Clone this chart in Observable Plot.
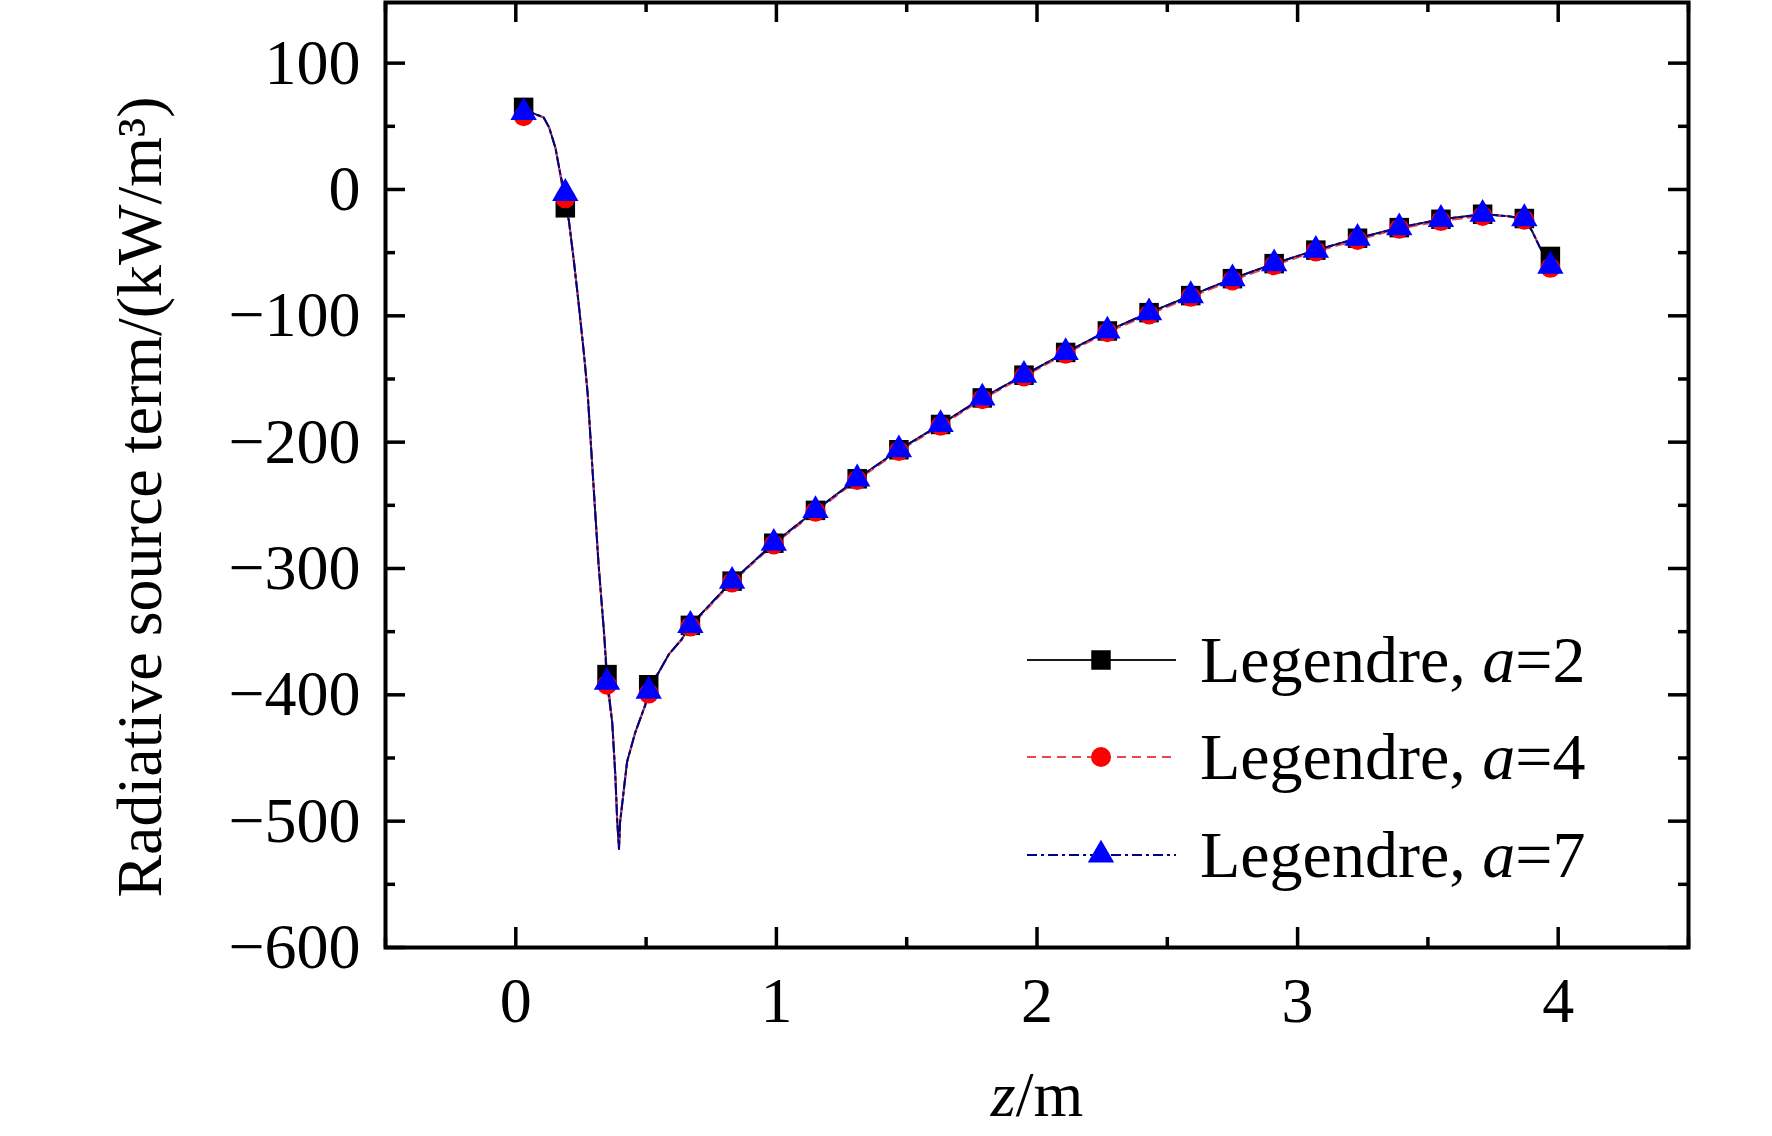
<!DOCTYPE html>
<html><head><meta charset="utf-8">
<script src="https://cdn.jsdelivr.net/npm/d3@7"></script>
<script src="https://cdn.jsdelivr.net/npm/@observablehq/plot@0.6"></script>
<style>
html,body{margin:0;padding:0;background:#fff;}
#wrap{position:relative;width:1772px;height:1136px;overflow:hidden;}
</style></head><body><div id="wrap"></div>
<script>
// ---- data ----
const zMarkers = [0.03,0.19,0.35,0.51,0.67,0.83,0.99,1.15,1.31,1.47,1.63,1.79,1.95,2.11,2.27,2.43,2.59,2.75,2.91,3.07,3.23,3.39,3.55,3.71,3.87,3.97];
const a2Values = [65,-14.5,-384,-392,-345,-310,-280,-254,-229,-206,-186,-165,-147,-129,-112,-97.5,-84,-70.6,-58.7,-48,-38.6,-30.2,-23.6,-19.6,-23,-53];
const a4Values = [58,-7,-392,-399,-346,-311,-281,-255,-230,-207,-187,-166,-148,-130,-113,-99,-85,-72,-60,-49,-40,-31,-25,-21,-24,-62];
const a7Values = [61,-3,-390,-397,-345,-310,-280,-254,-229,-206,-186,-165,-147,-129,-112,-97.5,-84,-70.6,-58.7,-48,-38.6,-30.2,-23.6,-19.6,-23,-60.6];
// profile between markers (common to the three curves)
const curveZ = [0.07,0.107,0.128,0.152,0.171,0.204,0.223,0.24,0.262,0.276,0.30,0.317,0.339,0.37,0.382,0.389,0.396,0.40,0.427,0.458,0.497,0.549,0.587,0.637,3.80,3.90,3.93];
const curveV = [60,57,49,33,12,-25,-57,-88,-131,-162,-240,-295,-352,-422,-464,-499,-522,-501,-453,-430,-408,-382,-368,-356,-21,-33,-46];
const xMajorTicks = [0,1,2,3,4];
const xMinorTicks = [-0.5,0.5,1.5,2.5,3.5,4.5];
const yMajorTicks = [-600,-500,-400,-300,-200,-100,0,100];
const yMinorTicks = [-550,-450,-350,-250,-150,-50,50];
const yTitle = "Radiative source term/(kW/m\u00B3)";
const seriesLabels = ["Legendre, ", "a", "=2", "=4", "=7"];

// ---- layout ----
const W = 1772, H = 1136;
const mL = 385, mR = 84, mT = 2, mB = 189;
const plotW = W - mL - mR, plotH = H - mT - mB;
const FONT = "'Liberation Serif','Times New Roman',serif";

function rows(values) {
  const m = zMarkers.map((z, i) => ({z, v: values[i]}));
  const c = curveZ.map((z, i) => ({z, v: curveV[i]}));
  return m.concat(c).sort((a, b) => a.z - b.z);
}
const marks2 = zMarkers.map((z, i) => ({z, v: a2Values[i]}));
const marks4 = zMarkers.map((z, i) => ({z, v: a4Values[i]}));
const marks7 = zMarkers.map((z, i) => ({z, v: a7Values[i]}));

const styles = [
  {stroke: "#1a1a1a", dash: null, fill: "#000000", symbol: "square", r: 11},
  {stroke: "#e5484d", dash: "9,6", fill: "#ff0000", symbol: "circle", r: 10},
  {stroke: "#00008b", dash: "10,4,3,4", fill: "#0000ff", symbol: "triangle", r: 9.8}
];

const TM = 20, Tm = 10, TW = 3.5;

const chart = Plot.plot({
  width: W, height: H,
  marginLeft: mL, marginRight: mR, marginTop: mT, marginBottom: mB,
  x: {domain: [-0.5, 4.5]},
  y: {domain: [-600, 148]},
  style: {fontFamily: FONT, fontSize: "64px", color: "black", background: "white", overflow: "visible"},
  marks: [
    Plot.line(rows(a2Values), {x: "z", y: "v", stroke: styles[0].stroke, strokeWidth: 2}),
    Plot.line(rows(a4Values), {x: "z", y: "v", stroke: styles[1].stroke, strokeWidth: 2, strokeDasharray: styles[1].dash}),
    Plot.line(rows(a7Values), {x: "z", y: "v", stroke: styles[2].stroke, strokeWidth: 2, strokeDasharray: styles[2].dash}),
    Plot.dot(marks2, {x: "z", y: "v", symbol: "square", r: styles[0].r, fill: styles[0].fill, stroke: "none"}),
    Plot.dot(marks4, {x: "z", y: "v", symbol: "circle", r: styles[1].r, fill: styles[1].fill, stroke: "none"}),
    Plot.dot(marks7, {x: "z", y: "v", symbol: "triangle", r: styles[2].r, fill: styles[2].fill, stroke: "none"}),
    // inward ticks on all four sides
    Plot.tickX(xMajorTicks, {x: d => d, insetTop: plotH - TM, stroke: "black", strokeWidth: TW}),
    Plot.tickX(xMinorTicks, {x: d => d, insetTop: plotH - Tm, stroke: "black", strokeWidth: TW}),
    Plot.tickX(xMajorTicks, {x: d => d, insetBottom: plotH - TM, stroke: "black", strokeWidth: TW}),
    Plot.tickX(xMinorTicks, {x: d => d, insetBottom: plotH - Tm, stroke: "black", strokeWidth: TW}),
    Plot.tickY(yMajorTicks, {y: d => d, insetRight: plotW - TM, stroke: "black", strokeWidth: TW}),
    Plot.tickY(yMinorTicks, {y: d => d, insetRight: plotW - Tm, stroke: "black", strokeWidth: TW}),
    Plot.tickY(yMajorTicks, {y: d => d, insetLeft: plotW - TM, stroke: "black", strokeWidth: TW}),
    Plot.tickY(yMinorTicks, {y: d => d, insetLeft: plotW - Tm, stroke: "black", strokeWidth: TW}),
    Plot.frame({stroke: "black", strokeWidth: 4}),
    Plot.axisX({ticks: xMajorTicks, tickFormat: d3.format("d"), tickSize: 0, tickPadding: 29, label: "z/m", labelAnchor: "center", labelArrow: "none", labelOffset: 168}),
    Plot.axisY({ticks: yMajorTicks, tickFormat: d3.format("d"), tickSize: 0, tickPadding: 25, label: yTitle, labelAnchor: "center", labelArrow: "none", labelOffset: 270})
  ]
});
document.getElementById("wrap").appendChild(chart);

const svg = d3.select(chart);
// italic z in the x label
const xl = svg.select('g[aria-label="x-axis label"] text');
if (!xl.empty()) {
  xl.text(null).attr("font-size", 64);
  xl.append("tspan").attr("font-style", "italic").text("z");
  xl.append("tspan").text("/m");
}
const yl = svg.select('g[aria-label="y-axis label"] text');
if (!yl.empty()) yl.text(yTitle).attr("font-size", 64).attr("dx", -22);

// legend (inside the frame, lower right)
const lg = svg.append("g").attr("font-family", FONT).attr("font-size", 66).attr("text-anchor", "start");
const rowY = [660, 757, 855];
const sample = [1027, 1176], symX = 1101, textX = 1200;
styles.forEach((s, i) => {
  const y = rowY[i];
  lg.append("line").attr("x1", sample[0]).attr("x2", sample[1]).attr("y1", y).attr("y2", y)
    .attr("stroke", s.stroke).attr("stroke-width", 2).attr("stroke-dasharray", s.dash);
  const sym = s.symbol === "square" ? d3.symbolSquare : s.symbol === "circle" ? d3.symbolCircle : d3.symbolTriangle;
  lg.append("path").attr("d", d3.symbol(sym, Math.PI * s.r * s.r)()).attr("transform", `translate(${symX},${y})`).attr("fill", s.fill);
  const t = lg.append("text").attr("x", textX).attr("y", y + 22).attr("fill", "black").attr("text-anchor", "start");
  t.append("tspan").text(seriesLabels[0]);
  t.append("tspan").attr("font-style", "italic").text(seriesLabels[1]);
  t.append("tspan").text(seriesLabels[2 + i]);
});
</script></body></html>
